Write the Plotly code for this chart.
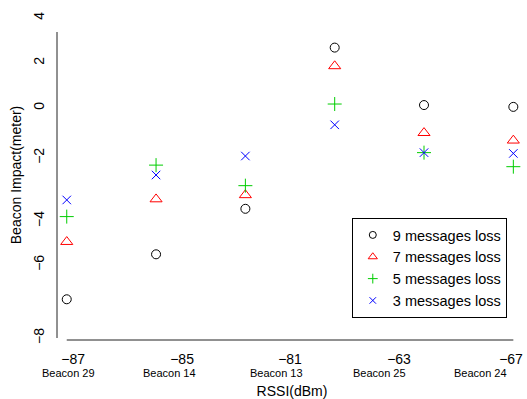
import plotly.graph_objects as go

# ---- data ----
beacon_pos = [1, 2, 3, 4, 5, 6]
loss9 = [-7.28, -5.55, -3.80, 2.40, 0.19, 0.12]
loss7 = [-5.07, -3.43, -3.27, 1.69, -0.88, -1.17]
loss5 = [-4.10, -2.12, -2.91, 0.23, -1.64, -2.18]
loss3 = [-3.46, -2.50, -1.77, -0.57, -1.64, -1.67]

rssi_labels = ["\u221287", "\u221285", "\u221281", "\u221263", "\u221267"]
rssi_label_pos = [1.071, 2.291, 3.50, 4.72, 5.974]
beacon_names = ["Beacon 29", "Beacon 14", "Beacon 13", "Beacon 25", "Beacon 24"]
beacon_name_pos = [1.015, 2.156, 3.343, 4.507, 5.627]

y_labels = ["4", "2", "0", "\u22122", "\u22124", "\u22126", "\u22128"]
y_label_pos = [3.539, 1.808, 0.077, -1.845, -4.27, -5.96, -8.77]
y_tick_marks = [3.0 - 1.6813 * k for k in range(8)]

series = [
    ("9 messages loss", loss9, "circle-open", "black", 9, 7),
    ("7 messages loss", loss7, "triangle-up-open", "#FF0000", 10.5, 8),
    ("5 messages loss", loss5, "cross-thin-open", "#00CD00", 10, 7),
    ("3 messages loss", loss3, "x-thin-open", "#0000FF", 8.5, 6.5),
]

FONT = "Liberation Sans, Arial, Helvetica, sans-serif"
AX = "#222222"

fig = go.Figure()
for name, vals, sym, col, size, lsize in series:
    fig.add_trace(go.Scatter(
        x=beacon_pos, y=vals, mode="markers", name=name, showlegend=False,
        marker=dict(symbol=sym, color=col, size=size, line=dict(color=col, width=1.0)),
    ))
# legend entries with the reference's smaller legend symbols
for name, vals, sym, col, size, lsize in series:
    fig.add_trace(go.Scatter(
        x=[None], y=[None], mode="markers", name=name, showlegend=True,
        marker=dict(symbol=sym, color=col, size=lsize, line=dict(color=col, width=1.0)),
    ))

fig.update_layout(
    width=527, height=399,
    margin=dict(l=57, r=0, t=10, b=59, autoexpand=False),
    paper_bgcolor="white", plot_bgcolor="white",
    font=dict(family=FONT, color="black", size=14),
    showlegend=True,
    legend=dict(
        x=0.957, y=0.0667, xanchor="right", yanchor="bottom",
        bordercolor="black", borderwidth=1, bgcolor="white",
        font=dict(size=14.5, family=FONT),
        tracegroupgap=0,
    ),
    xaxis=dict(
        range=[0.891, 6.153], showgrid=False, zeroline=False, showline=False,
        automargin=False,
        tickmode="array", tickvals=rssi_label_pos, ticktext=rssi_labels,
        ticks="", tickfont=dict(size=14), ticklabelstandoff=9,
        title=dict(text="RSSI(dBm)", font=dict(size=14), standoff=22),
    ),
    xaxis2=dict(
        overlaying="x", matches="x", anchor="y", side="bottom", automargin=False,
        showgrid=False, zeroline=False, showline=False,
        tickmode="array", tickvals=beacon_pos, showticklabels=False,
        ticks="outside", ticklen=8, tickcolor=AX, tickwidth=1,
    ),
    yaxis=dict(
        range=[-8.846, 3.846], showgrid=False, zeroline=False, showline=False,
        automargin=False,
        tickmode="array", tickvals=y_label_pos, ticktext=y_labels,
        ticks="", tickangle=-90, tickfont=dict(size=14), ticklabelstandoff=9,
        title=dict(text="Beacon Impact(meter)", font=dict(size=14), standoff=6),
    ),
    yaxis2=dict(
        overlaying="y", matches="y", anchor="x", side="left", automargin=False,
        showgrid=False, zeroline=False, showline=False,
        tickmode="array", tickvals=y_tick_marks, showticklabels=False,
        ticks="outside", ticklen=8, tickcolor=AX, tickwidth=1,
    ),
)

# axis lines spanning only from first to last tick (R style)
fig.add_shape(type="line", xref="paper", yref="y", x0=0, x1=0,
              y0=y_tick_marks[0], y1=y_tick_marks[-1], line=dict(color=AX, width=1))
fig.add_shape(type="line", xref="x", yref="paper", x0=beacon_pos[0], x1=beacon_pos[-1],
              y0=0, y1=0, line=dict(color=AX, width=1))

for name, pos in zip(beacon_names, beacon_name_pos):
    fig.add_annotation(x=pos, y=-0.1, xref="x", yref="paper", text=name,
                       showarrow=False, font=dict(size=11, family=FONT),
                       xanchor="center", yanchor="middle")

fig.write_html("out.html", config={"displayModeBar": False},
               post_script="document.body.style.margin='0';document.body.style.padding='0';")
